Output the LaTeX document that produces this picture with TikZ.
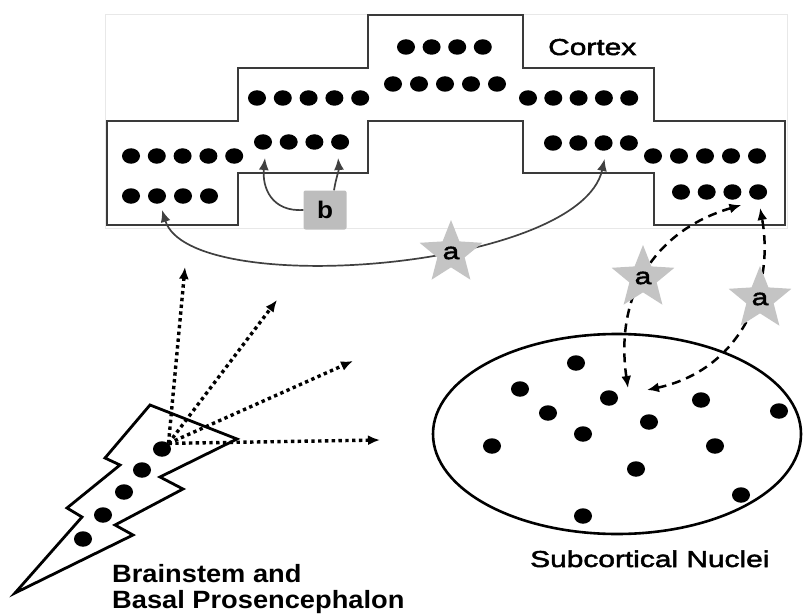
\documentclass[tikz,border=0pt]{standalone}
\usepackage{fontspec}
\setmainfont{Liberation Sans}
\newfontfamily\widefont{Liberation Sans}[FakeStretch=1.3, FakeBold=2.2]
\newfontfamily\heavyfont{Liberation Sans Bold}[FakeStretch=1.09]
\usepackage{tikz}
\usetikzlibrary{arrows.meta}
\usetikzlibrary{shapes.geometric}
\tikzset{>={Latex[length=12pt,width=10pt]}}
\definecolor{outline}{HTML}{3A3A3A}
\definecolor{stargray}{HTML}{C4C4C4}
\definecolor{boxgray}{HTML}{BDBDBD}
\definecolor{framegray}{HTML}{E8E8E8}
\tikzset{
  cell/.style={ellipse, fill=black, inner sep=0pt, minimum width=18pt, minimum height=15.5pt},
  cortexline/.style={outline, line width=2.8pt, line join=miter},
  spray/.style={->, line width=3.4pt, dash pattern=on 3.4pt off 3.4pt},
  link/.style={black!75, line width=1.7pt},
  feedback/.style={<->, line width=2.5pt, dash pattern=on 9pt off 6pt},
  burst/.style={star, star points=5, star point ratio=2.3, minimum size=66pt, inner sep=0pt, fill=stargray, font=\widefont\fontsize{23}{28}\selectfont},
  tag/.style={fill=boxgray, rounded corners=2pt, minimum width=43pt, minimum height=39pt, inner sep=0pt, font=\heavyfont\fontsize{24}{28}\selectfont},
  caption/.style={anchor=base west, inner sep=0pt, font=\widefont\fontsize{23}{28}\selectfont},
  heavycaption/.style={anchor=base west, inner sep=0pt, font=\heavyfont\fontsize{25}{29}\selectfont}
}

\begin{document}
\begin{tikzpicture}[x=1pt, y=-1pt]
    \useasboundingbox (0,0) rectangle (803,615);
    \draw[framegray, line width=0.8pt] (105,14) rectangle (787,228);
    \draw[cortexline] (368,15) -- (523,15) -- (523,68) -- (654,68) -- (654,121) -- (785,121) -- (785,225) -- (654,225) -- (654,173) -- (523,173) -- (523,121) -- (368,121) -- (368,173) -- (238,173) -- (238,225) -- (107,225) -- (107,121) -- (238,121) -- (238,68) -- (368,68) -- cycle;
    \node[caption] (cortex) at (548,55) {Cortex};
    \foreach \i in {1,...,4} \node[cell] (t1-\i) at ({406+25.6*(\i-1)},47) {};
    \foreach \i in {1,...,5} \node[cell] (t2-\i) at ({393+26*(\i-1)},84) {};
    \foreach \i in {1,...,5} \node[cell] (ml-\i) at ({257+25.8*(\i-1)},98) {};
    \foreach \i in {1,...,5} \node[cell] (mr-\i) at ({528+25.3*(\i-1)},98) {};
    \foreach \i in {1,...,5} \node[cell] (l1-\i) at ({131+25.8*(\i-1)},156) {};
    \foreach \i in {1,...,4} \node[cell] (l2-\i) at ({131+26*(\i-1)},196) {};
    \foreach \i in {1,...,4} \node[cell] (il-\i) at ({263+25.7*(\i-1)},142) {};
    \foreach \i in {1,...,4} \node[cell] (ir-\i) at ({553+25.3*(\i-1)},143) {};
    \foreach \i in {1,...,5} \node[cell] (r1-\i) at ({653+26*(\i-1)},156) {};
    \foreach \i in {1,...,4} \node[cell] (r2-\i) at ({681+25.7*(\i-1)},192) {};

    \node[tag] (b) at (325,210) {b};
    \draw[link, ->] (b.west) .. controls (272,212) and (262,188) .. ([shift={(2,16)}]il-1.center);
    \draw[link, ->] ([xshift=9pt]b.north) .. controls (336,178) and (339,170) .. ([shift={(-2,16)}]il-4.center);
    \draw[link, <->] ([shift={(5,14)}]l2-2.center) .. controls (190,300) and (580,270) .. ([shift={(1,16)}]ir-3.center);

    \draw[line width=2.6pt] (617,434) ellipse [x radius=184, y radius=100];
    \foreach \x/\y [count=\k] in {576/363, 520/389, 609/398, 701/400, 779/411, 548/413, 649/422, 583/434, 492/446, 715/446, 636/469, 741/495, 583/516}
        \node[cell] (sn-\k) at (\x,\y) {};
    \node[caption] (subcortical) at (530,567) {Subcortical Nuclei};

    \coordinate (hit1) at (628,388);
    \coordinate (hit2) at (647,390);
    \draw[feedback] (hit1) .. controls (615,300) and (650,232) .. ([shift={(9,13)}]r2-3.center);
    \draw[feedback] (hit2) .. controls (740,370) and (775,290) .. ([shift={(2,16)}]r2-4.center);

    \node[burst] (a1) at (451,253) {a};
    \node[burst] (a2) at (643,278) {a};
    \node[burst] (a3) at (760,299) {a};

    \draw[line width=2.8pt, line join=miter] (150,405) -- (237,439) -- (160,477) -- (183,489) -- (115,525) -- (133,535) -- (15,593) -- (82,517) -- (67,508) -- (120,465) -- (105,458) -- cycle;
    \foreach \x/\y [count=\k] in {162/449, 142/470, 124/492, 103/515, 83/539}
        \node[cell] (bolt-\k) at (\x,\y) {};
    \coordinate (aim1) at (185,267);
    \coordinate (aim2) at (277,300);
    \coordinate (aim3) at (353,361);
    \coordinate (aim4) at (380,440);
    \foreach \t in {aim1, aim2, aim3, aim4}
        \draw[spray] (bolt-1.north east) -- (\t);
    \node[heavycaption] (brainstem) at (112,582) {Brainstem and};
    \node[heavycaption] (prosencephalon) at (112,608) {Basal Prosencephalon};
\end{tikzpicture}
\end{document}
